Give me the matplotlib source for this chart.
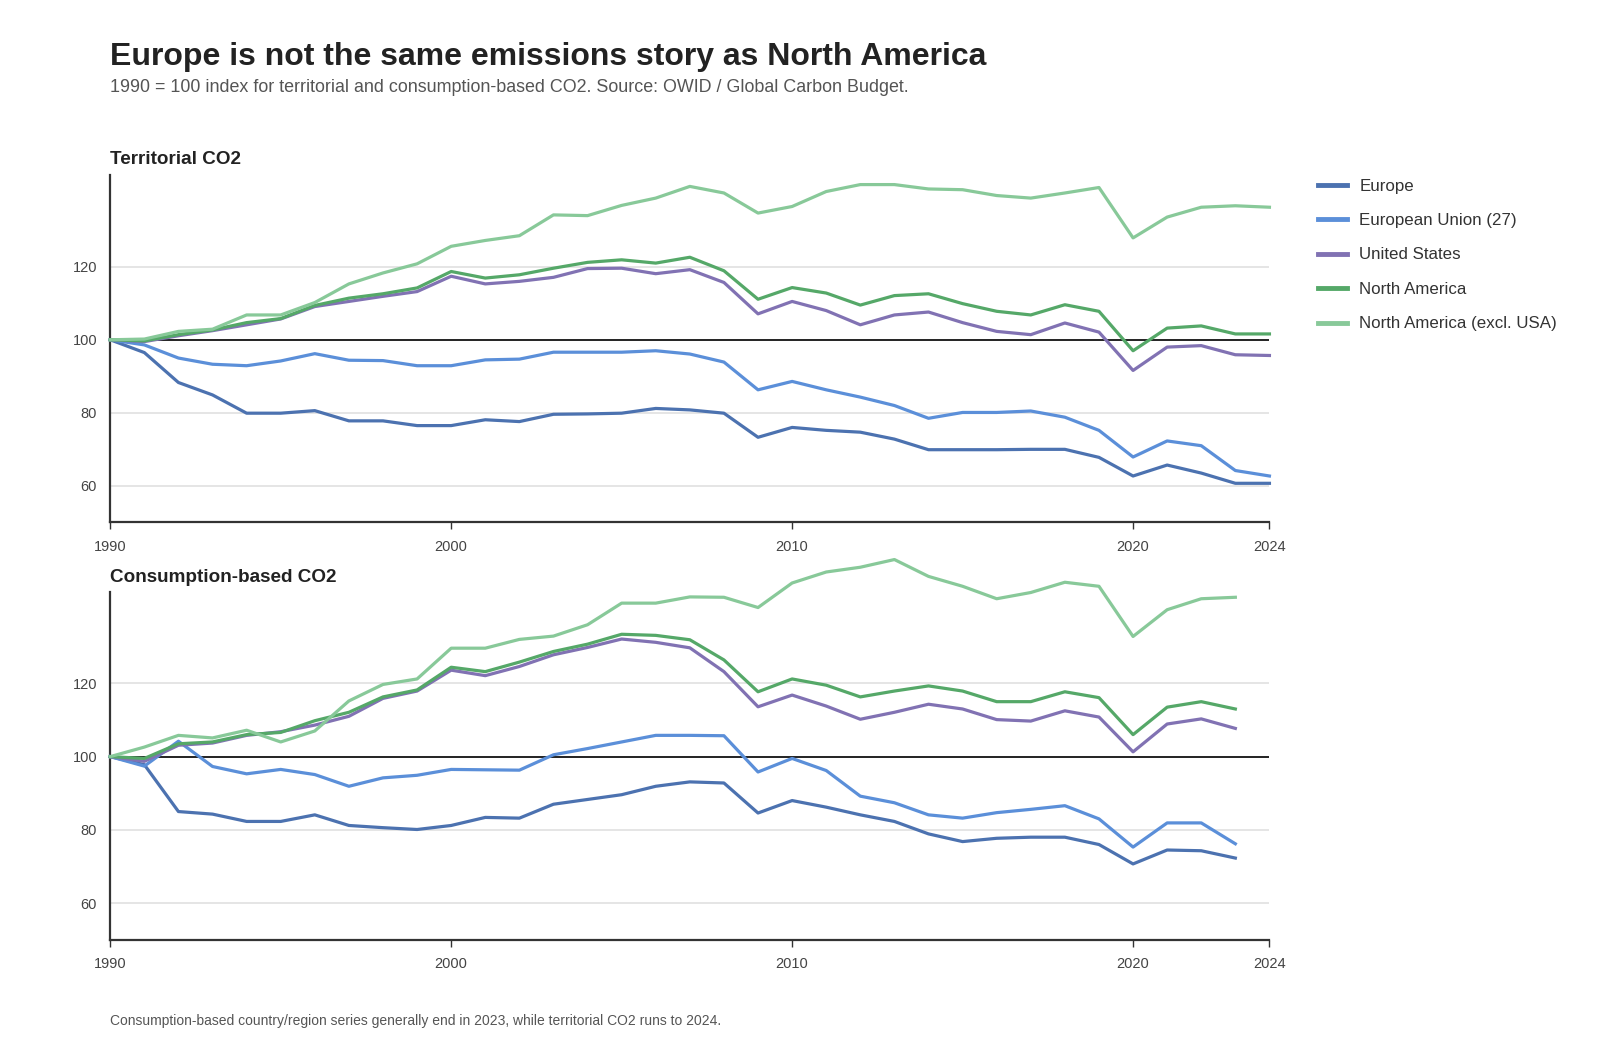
import numpy as np
import matplotlib.pyplot as plt

plt.rcParams['font.family'] = ['Liberation Sans', 'DejaVu Sans']

years_terr = np.arange(1990, 2025)
years_cons = np.arange(1990, 2024)

# territorial CO2, 1990 = 100
terr_europe = [100, 96.5, 88.3, 84.9, 79.9, 79.9, 80.6, 77.8, 77.8, 76.5, 76.5, 78.1, 77.6,
               79.6, 79.7, 79.9, 81.2, 80.8, 79.9, 73.3, 76.0, 75.2, 74.7, 72.8, 69.9, 69.9,
               69.9, 70.0, 70.0, 67.8, 62.7, 65.7, 63.5, 60.7, 60.7]
terr_eu = [100, 98.6, 95.0, 93.3, 92.9, 94.2, 96.2, 94.4, 94.3, 92.9, 92.9, 94.5, 94.7,
           96.6, 96.6, 96.6, 97.0, 96.1, 93.9, 86.3, 88.6, 86.3, 84.3, 82.0, 78.5, 80.1,
           80.1, 80.5, 78.8, 75.2, 67.9, 72.3, 71.0, 64.2, 62.7]
terr_us = [100, 99.5, 101.1, 102.5, 104.1, 105.7, 109.1, 110.5, 111.9, 113.2, 117.4, 115.3,
           116.0, 117.1, 119.5, 119.6, 118.1, 119.2, 115.7, 107.1, 110.5, 108.0, 104.1, 106.8,
           107.6, 104.7, 102.3, 101.4, 104.6, 102.1, 91.6, 98.0, 98.4, 95.9, 95.7]
terr_na = [100, 99.7, 101.4, 102.7, 104.7, 105.8, 109.4, 111.4, 112.6, 114.2, 118.7, 116.9,
           117.8, 119.6, 121.2, 121.9, 121.0, 122.6, 118.9, 111.1, 114.3, 112.8, 109.5, 112.1,
           112.6, 109.9, 107.8, 106.8, 109.6, 107.8, 97.0, 103.2, 103.8, 101.6, 101.6]
terr_na_x = [100, 100.2, 102.3, 102.9, 106.8, 106.8, 110.2, 115.3, 118.3, 120.8, 125.6, 127.2,
             128.5, 134.2, 134.0, 136.8, 138.8, 142.0, 140.2, 134.7, 136.5, 140.6, 142.5, 142.5,
             141.3, 141.1, 139.5, 138.8, 140.2, 141.7, 127.9, 133.6, 136.3, 136.7, 136.3]

# consumption-based CO2, 1990 = 100 (ends 2023)
cons_europe = [100, 97.8, 85.0, 84.3, 82.3, 82.3, 84.1, 81.2, 80.6, 80.1, 81.2, 83.4, 83.2,
               87.0, 88.3, 89.6, 91.9, 93.1, 92.8, 84.6, 88.0, 86.2, 84.1, 82.3, 78.9, 76.8,
               77.7, 78.0, 78.0, 76.0, 70.7, 74.5, 74.3, 72.3]
cons_eu = [100, 97.4, 104.2, 97.3, 95.3, 96.5, 95.1, 91.9, 94.2, 94.9, 96.5, 96.4, 96.3,
           100.5, 102.2, 104.0, 105.8, 105.8, 105.7, 95.8, 99.5, 96.2, 89.2, 87.4, 84.1, 83.2,
           84.7, 85.6, 86.6, 83.0, 75.3, 81.9, 81.9, 76.2]
cons_us = [100, 98.7, 103.1, 103.7, 105.8, 106.8, 108.6, 111.0, 115.9, 117.9, 123.6, 122.1,
           124.6, 127.8, 129.8, 132.1, 131.2, 129.7, 123.2, 113.6, 116.8, 113.8, 110.2, 112.1,
           114.3, 113.0, 110.1, 109.7, 112.5, 110.8, 101.3, 108.9, 110.3, 107.7]
cons_na = [100, 99.5, 103.5, 104.0, 106.0, 106.6, 109.8, 112.1, 116.3, 118.2, 124.4, 123.2,
           125.8, 128.7, 130.7, 133.4, 133.1, 131.9, 126.4, 117.7, 121.2, 119.5, 116.3, 117.9,
           119.3, 117.9, 115.0, 115.0, 117.7, 116.1, 106.0, 113.5, 115.0, 113.0]
cons_na_x = [100, 102.6, 105.8, 105.1, 107.2, 104.0, 107.0, 115.2, 119.7, 121.2, 129.6, 129.6,
             132.0, 132.9, 136.0, 141.9, 141.9, 143.6, 143.5, 140.7, 147.4, 150.4, 151.7, 153.8,
             149.2, 146.5, 143.1, 144.8, 147.6, 146.5, 132.8, 140.1, 143.1, 143.5]

labels = ["Europe", "European Union (27)", "United States", "North America",
          "North America (excl. USA)"]
colors = ["#4C72B0", "#5B8FD9", "#8172B3", "#55A868", "#88C999"]

fig = plt.figure(figsize=(16, 10.5), dpi=100)
ax1 = fig.add_axes([0.0689, 0.5025, 0.7245, 0.3304])
ax2 = fig.add_axes([0.0689, 0.1050, 0.7245, 0.3314])

panels = [
    (ax1, years_terr, [terr_europe, terr_eu, terr_us, terr_na, terr_na_x]),
    (ax2, years_cons, [cons_europe, cons_eu, cons_us, cons_na, cons_na_x]),
]

for ax, yrs, series in panels:
    for vals, lab, col in zip(series, labels, colors):
        ax.plot(yrs, vals, color=col, lw=2.3, label=lab, clip_on=False, zorder=3)
    ax.set_xlim(1990, 2024)
    ax.set_ylim(50, 145)
    ax.set_yticks([60, 80, 100, 120])
    ax.set_xticks([1990, 2000, 2010, 2020, 2024])
    for v in [60, 80, 120]:
        ax.axhline(v, color="#e3e3e3", lw=1.3, zorder=1)
    ax.axhline(100, color="#222222", lw=1.4, zorder=2)
    for s in ["top", "right"]:
        ax.spines[s].set_visible(False)
    for s in ["left", "bottom"]:
        ax.spines[s].set_color("#333333")
        ax.spines[s].set_linewidth(1.6)
    ax.tick_params(axis="y", length=0, pad=9.5, labelsize=10.5, labelcolor="#444444")
    ax.tick_params(axis="x", length=5, width=1, color="#333333", pad=7.5,
                   labelsize=10.5, labelcolor="#444444")

fig.text(0.0689, 0.9457, "Europe is not the same emissions story as North America",
         fontsize=23, fontweight="bold", color="#222222", va="center")
fig.text(0.0689, 0.9162,
         "1990 = 100 index for territorial and consumption-based CO2. Source: OWID / Global Carbon Budget.",
         fontsize=12.9, color="#555555", va="center")
fig.text(0.0689, 0.8485, "Territorial CO2", fontsize=13.6, fontweight="bold",
         color="#222222", va="center")
fig.text(0.0689, 0.4500, "Consumption-based CO2", fontsize=13.6, fontweight="bold",
         color="#222222", va="center")
fig.text(0.0689, 0.0275,
         "Consumption-based country/region series generally end in 2023, while territorial CO2 runs to 2024.",
         fontsize=10.0, color="#555555", va="center")

handles, labs = ax1.get_legend_handles_labels()
leg = fig.legend(handles, labs, loc="upper left", bbox_to_anchor=(0.8235, 0.8300),
                 frameon=False, fontsize=12.2, handlelength=1.75, handletextpad=0.72,
                 labelspacing=1.15, borderpad=0, borderaxespad=0)
for t in leg.get_texts():
    t.set_color("#333333")
for h in leg.legend_handles:
    h.set_linewidth(3.5)

fig.savefig("out.png", dpi=100)
